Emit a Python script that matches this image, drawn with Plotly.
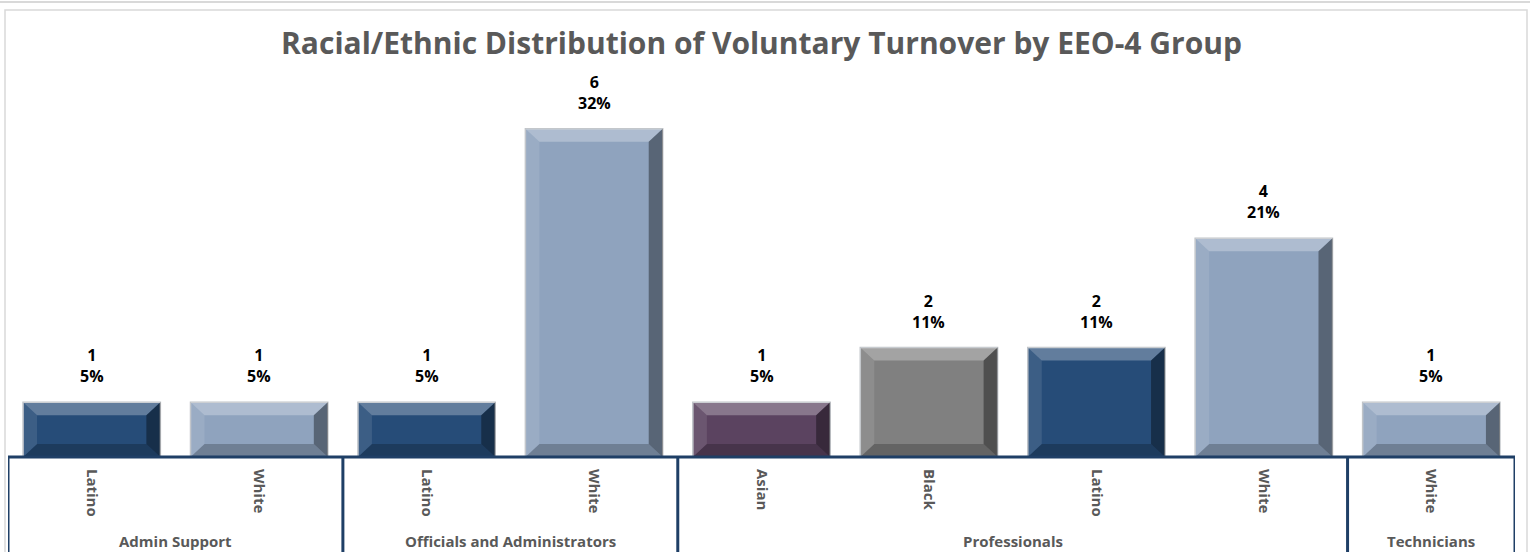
import plotly.graph_objects as go

# ---- data ----
groups = ["Admin Support", "Admin Support", "Officials and Administrators", "Officials and Administrators",
          "Professionals", "Professionals", "Professionals", "Professionals", "Technicians"]
races = ["Latino", "White", "Latino", "White", "Asian", "Black", "Latino", "White", "White"]
counts = [1, 1, 1, 6, 1, 2, 2, 4, 1]
pct_labels = ["5%", "5%", "5%", "32%", "5%", "11%", "11%", "21%", "5%"]
race_colors = {"Latino": "#264C78", "White": "#8FA3BE", "Asian": "#5B4360", "Black": "#808080"}

W, H = 1530, 552
ML, MR, MT, MB = 8, 15, 74, 95
PW, PH = W - ML - MR, H - MT - MB
YMAX = 7.0

x = list(range(len(races)))
colors = [race_colors[r] for r in races]

fig = go.Figure()
fig.add_trace(go.Bar(
    x=x, y=counts, marker=dict(color=colors, line=dict(color="#BFC3C8", width=1.5)),
    width=0.82, hoverinfo="skip", showlegend=False,
))

# bevel overlays derived from bar geometry
bw = 0.82
dx = 14 / (PW / len(races))
dy = 13 / (PH / YMAX)
shapes = []
for xi, v in zip(x, counts):
    x0, x1 = xi - bw / 2, xi + bw / 2
    d_y = min(dy, v / 4)
    faces = [
        (f"M{x0},{v} L{x1},{v} L{x1-dx},{v-d_y} L{x0+dx},{v-d_y} Z", "rgba(255,255,255,0.28)"),
        (f"M{x1},{v} L{x1},0 L{x1-dx},{d_y} L{x1-dx},{v-d_y} Z", "rgba(0,0,0,0.38)"),
        (f"M{x0},0 L{x1},0 L{x1-dx},{d_y} L{x0+dx},{d_y} Z", "rgba(0,0,0,0.22)"),
        (f"M{x0},{v} L{x0},0 L{x0+dx},{d_y} L{x0+dx},{v-d_y} Z", "rgba(255,255,255,0.10)"),
    ]
    for p, c in faces:
        shapes.append(dict(type="path", path=p, xref="x", yref="y", fillcolor=c,
                           line=dict(width=0), layer="above"))

# helpers for pixel -> paper
def py(pix):
    return (H - MB - pix) / PH
def px(pix):
    return (pix - ML) / PW

navy = "#1F3F66"
# outer chart border
shapes.append(dict(type="rect", xref="paper", yref="paper", x0=px(5), x1=px(1527), y0=py(553), y1=py(10),
                    line=dict(color="#D9D9D9", width=1.5), layer="below"))
shapes.append(dict(type="line", xref="paper", yref="paper", x0=px(0), x1=px(1530), y0=py(2), y1=py(2),
                    line=dict(color="#D9D9D9", width=2)))
# axis line
shapes.append(dict(type="line", xref="x", yref="paper", x0=-0.5, x1=len(races) - 0.5, y0=0, y1=0,
                   line=dict(color=navy, width=3), layer="above"))
# group dividers
bounds = [-0.5]
for i in range(1, len(groups)):
    if groups[i] != groups[i - 1]:
        bounds.append(i - 0.5)
bounds.append(len(groups) - 0.5)
for b in bounds:
    shapes.append(dict(type="line", xref="x", yref="paper", x0=b, x1=b, y0=0, y1=py(553),
                       line=dict(color=navy, width=3)))

annotations = []
for xi, v, p in zip(x, counts, pct_labels):
    annotations.append(dict(x=xi, y=v, xref="x", yref="y", text=f"<b>{v}<br>{p}</b>", showarrow=False,
                            yanchor="bottom", yshift=13, font=dict(size=16, color="#000000", family="Open Sans")))
seen = []
for g in groups:
    if g not in seen:
        seen.append(g)
for g in seen:
    idx = [i for i, gg in enumerate(groups) if gg == g]
    annotations.append(dict(x=sum(idx) / len(idx), y=py(541), xref="x", yref="paper", text=f"<b>{g}</b>",
                            showarrow=False, yanchor="middle",
                            font=dict(size=15, color="#595959", family="Open Sans")))

fig.update_layout(
    width=W, height=H, margin=dict(l=ML, r=MR, t=MT, b=MB),
    paper_bgcolor="white", plot_bgcolor="white",
    title=dict(text="<b>Racial/Ethnic Distribution of Voluntary Turnover by EEO-4 Group</b>",
               x=0.5, xref="paper", y=1 - 43 / H, yanchor="middle",
               font=dict(size=30, color="#595959", family="Open Sans")),
    xaxis=dict(range=[-0.5, len(races) - 0.5], tickvals=x, ticktext=[f"<b>{r}</b>" for r in races],
               tickangle=90, tickfont=dict(size=15, color="#595959", family="Open Sans"),
               showgrid=False, zeroline=False, showline=False, ticks="", ticklabelstandoff=11),
    yaxis=dict(range=[0, YMAX], visible=False),
    shapes=shapes, annotations=annotations, bargap=0.18,
)
fig.write_html("out.html", config={"displayModeBar": False},
               post_script="document.body.style.margin='0';document.body.style.padding='0';")
